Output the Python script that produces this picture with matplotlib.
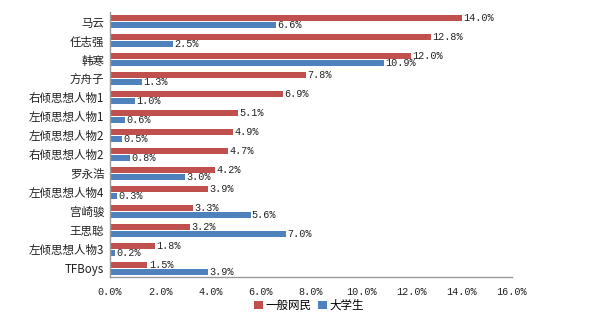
import matplotlib
matplotlib.use("Agg")
import matplotlib.pyplot as plt
import numpy as np

categories = ["马云", "任志强", "韩寒", "方舟子", "右倾思想人物1", "左倾思想人物1",
              "左倾思想人物2", "右倾思想人物2", "罗永浩", "左倾思想人物4", "宫崎骏",
              "王思聪", "左倾思想人物3", "TFBoys"]
netizens = [14.0, 12.8, 12.0, 7.8, 6.9, 5.1, 4.9, 4.7, 4.2, 3.9, 3.3, 3.2, 1.8, 1.5]
students = [6.6, 2.5, 10.9, 1.3, 1.0, 0.6, 0.5, 0.8, 3.0, 0.3, 5.6, 7.0, 0.2, 3.9]
series_names = ["一般网民", "大学生"]
xticks = [0, 2, 4, 6, 8, 10, 12, 14, 16]

plt.rcParams['font.family'] = ['Noto Sans CJK SC', 'DejaVu Sans']
num_font = ['Liberation Mono', 'DejaVu Sans Mono']

red = "#C0504D"
blue = "#4F81BD"

fig = plt.figure(figsize=(6, 3.25), dpi=100)
ax = fig.add_axes([0.183, 0.148, 0.670, 0.815])

n = len(categories)
y = np.arange(n)
h = 0.32
off = 0.17
ax.barh(y - off, netizens, height=h, color=red, label=series_names[0])
ax.barh(y + off, students, height=h, color=blue, label=series_names[1])

for yi, v in zip(y - off, netizens):
    ax.text(v + 0.05, yi, f"{v:.1f}%", va="center", ha="left", fontsize=7.3,
            family=num_font, color="#222222")
for yi, v in zip(y + off, students):
    ax.text(v + 0.05, yi, f"{v:.1f}%", va="center", ha="left", fontsize=7.3,
            family=num_font, color="#222222")

ax.set_ylim(n - 0.55, -0.5)
ax.set_xlim(0, 16)
ax.set_yticks(y)
ax.set_yticklabels(categories, fontsize=8.3, color="#222222")
ax.set_xticks(xticks)
ax.set_xticklabels([f"{t:.1f}%" for t in xticks], fontsize=7.3, family=num_font,
                   color="#222222")
ax.tick_params(axis="y", length=0, pad=4)
ax.tick_params(axis="x", length=0, pad=7)
for s in ["top", "right"]:
    ax.spines[s].set_visible(False)
for s in ["left", "bottom"]:
    ax.spines[s].set_color("#999999")
    ax.spines[s].set_linewidth(1.0)

fig.legend(loc="center", bbox_to_anchor=(0.515, 0.06), ncol=2, frameon=False,
           fontsize=8.3, handlelength=0.8, handleheight=0.8, handletextpad=0.2,
           columnspacing=0.6)

fig.savefig("out.png", dpi=100)
